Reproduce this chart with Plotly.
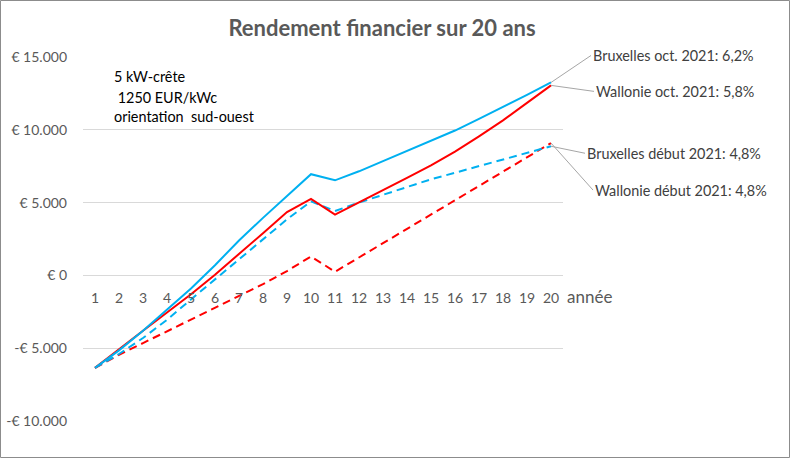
import plotly.graph_objects as go

years = [1, 2, 3, 4, 5, 6, 7, 8, 9, 10, 11, 12, 13, 14, 15, 16, 17, 18, 19, 20]
year_labels = [str(y) for y in years]

bxl_oct = [-6350, -5150, -3800, -2350, -900, 700, 2400, 3950, 5450, 6950,
           6530, 7150, 7850, 8550, 9200, 9950, 10750, 11550, 12400, 13250]
wal_oct = [-6350, -5050, -3800, -2550, -1300, 50, 1450, 2900, 4350, 5250,
           4170, 5000, 5850, 6700, 7550, 8500, 9550, 10650, 11850, 13050]
bxl_debut = [-6350, -5400, -4300, -3050, -1650, -280, 1100, 2500, 3850, 5080,
             4420, 5000, 5550, 6100, 6600, 7050, 7500, 7950, 8400, 8870]
wal_debut = [-6350, -5450, -4650, -3850, -3050, -2250, -1450, -600, 300, 1300,
             250, 1230, 2200, 3200, 4180, 5150, 6130, 7120, 8100, 9090]

series_names = ["Bruxelles oct. 2021: 6,2%", "Wallonie oct. 2021: 5,8%",
                "Bruxelles début 2021: 4,8%", "Wallonie début 2021: 4,8%"]

y_tickvals = [-10000, -5000, 0, 5000, 10000, 15000]
y_ticktext = ["-€ 10.000", "-€ 5.000", "€ 0", "€ 5.000", "€ 10.000", "€ 15.000"]

info_lines = ["5 kW-crête", " 1250 EUR/kWc", "orientation  sud-ouest"]

BLUE = "#00B0F0"
RED = "#FF0000"
FONT = "Lato"

fig = go.Figure()
fig.add_trace(go.Scatter(x=years, y=wal_debut, mode="lines", name=series_names[3],
                         line=dict(color=RED, width=2, dash="8px,5px")))
fig.add_trace(go.Scatter(x=years, y=bxl_debut, mode="lines", name=series_names[2],
                         line=dict(color=BLUE, width=2, dash="8px,5px")))
fig.add_trace(go.Scatter(x=years, y=wal_oct, mode="lines", name=series_names[1],
                         line=dict(color=RED, width=2)))
fig.add_trace(go.Scatter(x=years, y=bxl_oct, mode="lines", name=series_names[0],
                         line=dict(color=BLUE, width=2)))

W, H = 790, 458
ML, MR, MT, MB = 83, 227, 57, 37
PW, PH = W - ML - MR, H - MT - MB
yr = [-10000, 15000]
zero_pos = (0 - yr[0]) / (yr[1] - yr[0])

annotations = []
# end-of-line labels with leader lines
label_specs = [
    (series_names[0], bxl_oct[-1], 40, -27),
    (series_names[1], wal_oct[-1], 43, 6),
    (series_names[2], bxl_debut[-1], 34, 7),
    (series_names[3], wal_debut[-1], 42, 47),
]
for txt, yv, ax, ay in label_specs:
    annotations.append(dict(
        x=years[-1], y=yv, xref="x", yref="y", text=txt,
        showarrow=True, arrowhead=0, arrowwidth=1, arrowcolor="#A6A6A6",
        ax=ax, ay=ay, xanchor="left", yanchor="middle", standoff=0,
        font=dict(family=FONT, size=14.4, color="#404040"),
    ))

# info block
info_y = [76, 97, 117]
for t, ypx in zip(info_lines, info_y):
    annotations.append(dict(
        x=(112 - ML) / PW, y=(H - MB - ypx) / PH, xref="paper", yref="paper",
        text=t.replace(" ", "&nbsp;") if t.startswith(" ") else t,
        showarrow=False, xanchor="left", yanchor="middle",
        font=dict(family=FONT, size=14.4, color="#000000"),
    ))

# axis title "année"
annotations.append(dict(
    x=1, y=0, xref="paper", yref="y", text="année", showarrow=False,
    xanchor="left", yanchor="middle", xshift=2, yshift=-21,
    font=dict(family=FONT, size=17, color="#595959"),
))

fig.update_layout(
    width=W, height=H,
    margin=dict(l=ML, r=MR, t=MT, b=MB, autoexpand=False),
    paper_bgcolor="white", plot_bgcolor="white",
    showlegend=False,
    title=dict(text="<b>Rendement financier sur 20 ans</b>", x=382 / W, xref="container",
               xanchor="center", y=1 - 28 / H, yanchor="middle",
               font=dict(family=FONT, size=22, color="#595959")),
    font=dict(family=FONT),
    annotations=annotations,
    xaxis=dict(range=[0.5, 20.5], tickvals=years, ticktext=year_labels,
               anchor="free", position=zero_pos, showgrid=False, zeroline=False,
               showline=False, ticks="", ticklabelstandoff=13, automargin=False,
               tickfont=dict(family=FONT, size=14, color="#595959")),
    yaxis=dict(range=yr, tickvals=y_tickvals, ticktext=y_ticktext,
               showgrid=True, gridcolor="#D9D9D9", gridwidth=1, zeroline=False,
               showline=False, ticks="", ticklabelstandoff=15, automargin=False,
               tickfont=dict(family=FONT, size=14, color="#595959")),
    shapes=[dict(type="rect", xref="paper", yref="paper",
                 x0=(-ML + 0.5) / PW, x1=1 + (MR - 0.5) / PW,
                 y0=(-MB + 0.5) / PH, y1=1 + (MT - 0.5) / PH,
                 line=dict(color="#8C8C8C", width=1))],
)

fig.write_html("out.html", config={"displayModeBar": False},
               post_script="document.body.style.margin='0';")
